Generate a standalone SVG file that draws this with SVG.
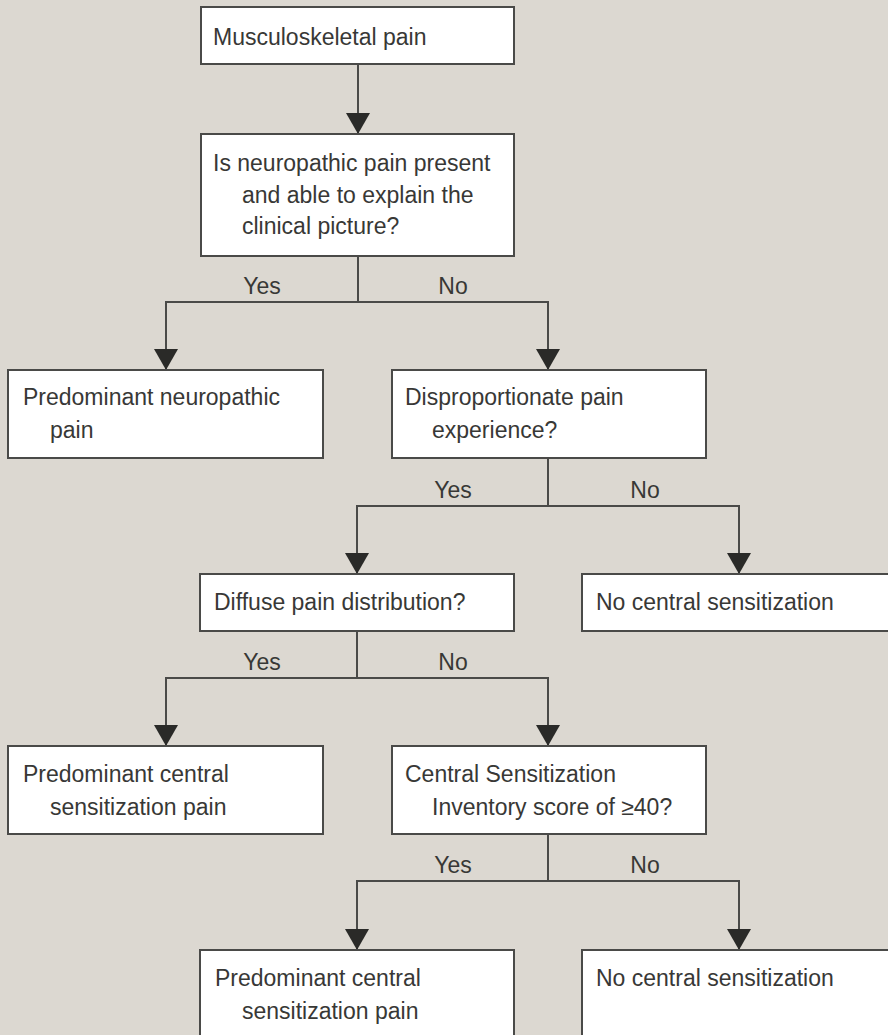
<svg xmlns="http://www.w3.org/2000/svg" width="888" height="1035" viewBox="0 0 888 1035">
<style>
.bg{fill:#dcd8d1}
.box{fill:#ffffff;stroke:#4a4a48;stroke-width:2}
.t{font-family:"Liberation Sans",Arial,sans-serif;font-size:23px;fill:#383836}
.c{fill:none;stroke:#4a4a48;stroke-width:2}
</style>
<defs>
<marker id="ah" viewBox="0 -12 21 24" refX="21" refY="0" markerWidth="21" markerHeight="24" markerUnits="userSpaceOnUse" orient="auto">
<path d="M0,-12 L21,0 L0,12 z" fill="#2a2a28"/>
</marker>
</defs>
<rect class="bg" x="0" y="0" width="888" height="1035"/>
<g id="connectors">
<line class="c" x1="358" y1="64" x2="358" y2="134" marker-end="url(#ah)"/>
<polyline class="c" points="358,256 358,302"/>
<polyline class="c" points="166,370 166,302 548,302 548,370"/>
<polyline class="c" points="548,458 548,506"/>
<polyline class="c" points="357,574 357,506 739,506 739,574"/>
<polyline class="c" points="357,631 357,678"/>
<polyline class="c" points="166,746 166,678 548,678 548,746"/>
<polyline class="c" points="548,834 548,881"/>
<polyline class="c" points="357,950 357,881 739,881 739,950"/>
<line class="c" x1="166" y1="340" x2="166" y2="370" marker-end="url(#ah)"/>
<line class="c" x1="548" y1="340" x2="548" y2="370" marker-end="url(#ah)"/>
<line class="c" x1="357" y1="544" x2="357" y2="574" marker-end="url(#ah)"/>
<line class="c" x1="739" y1="544" x2="739" y2="574" marker-end="url(#ah)"/>
<line class="c" x1="166" y1="716" x2="166" y2="746" marker-end="url(#ah)"/>
<line class="c" x1="548" y1="716" x2="548" y2="746" marker-end="url(#ah)"/>
<line class="c" x1="357" y1="920" x2="357" y2="950" marker-end="url(#ah)"/>
<line class="c" x1="739" y1="920" x2="739" y2="950" marker-end="url(#ah)"/>
<text class="t" x="262" y="294" text-anchor="middle">Yes</text>
<text class="t" x="453" y="294" text-anchor="middle">No</text>
<text class="t" x="453" y="498" text-anchor="middle">Yes</text>
<text class="t" x="645" y="498" text-anchor="middle">No</text>
<text class="t" x="262" y="670" text-anchor="middle">Yes</text>
<text class="t" x="453" y="670" text-anchor="middle">No</text>
<text class="t" x="453" y="873" text-anchor="middle">Yes</text>
<text class="t" x="645" y="873" text-anchor="middle">No</text>
</g>
<g id="n-musculoskeletal">
<rect class="box" x="201" y="7" width="313" height="57"/>
<text class="t" x="213" y="45">Musculoskeletal pain</text>
</g>
<g id="n-neuropathic-q">
<rect class="box" x="201" y="134" width="313" height="122"/>
<text class="t" x="213" y="171">Is neuropathic pain present</text>
<text class="t" x="242" y="203">and able to explain the</text>
<text class="t" x="242" y="234">clinical picture?</text>
</g>
<g id="n-predominant-neuropathic">
<rect class="box" x="8" y="370" width="315" height="88"/>
<text class="t" x="23" y="405">Predominant neuropathic</text>
<text class="t" x="50" y="438">pain</text>
</g>
<g id="n-disproportionate">
<rect class="box" x="392" y="370" width="314" height="88"/>
<text class="t" x="405" y="405">Disproportionate pain</text>
<text class="t" x="432" y="438">experience?</text>
</g>
<g id="n-diffuse">
<rect class="box" x="200" y="574" width="314" height="57"/>
<text class="t" x="214" y="610">Diffuse pain distribution?</text>
</g>
<g id="n-no-cs-1">
<rect class="box" x="582" y="574" width="316" height="57"/>
<text class="t" x="596" y="610">No central sensitization</text>
</g>
<g id="n-predominant-cs-1">
<rect class="box" x="8" y="746" width="315" height="88"/>
<text class="t" x="23" y="782">Predominant central</text>
<text class="t" x="50" y="815">sensitization pain</text>
</g>
<g id="n-csi">
<rect class="box" x="392" y="746" width="314" height="88"/>
<text class="t" x="405" y="782">Central Sensitization</text>
<text class="t" x="432" y="815">Inventory score of ≥40?</text>
</g>
<g id="n-predominant-cs-2">
<rect class="box" x="200" y="950" width="314" height="100"/>
<text class="t" x="215" y="986">Predominant central</text>
<text class="t" x="242" y="1019">sensitization pain</text>
</g>
<g id="n-no-cs-2">
<rect class="box" x="582" y="950" width="316" height="100"/>
<text class="t" x="596" y="986">No central sensitization</text>
</g>
</svg>
